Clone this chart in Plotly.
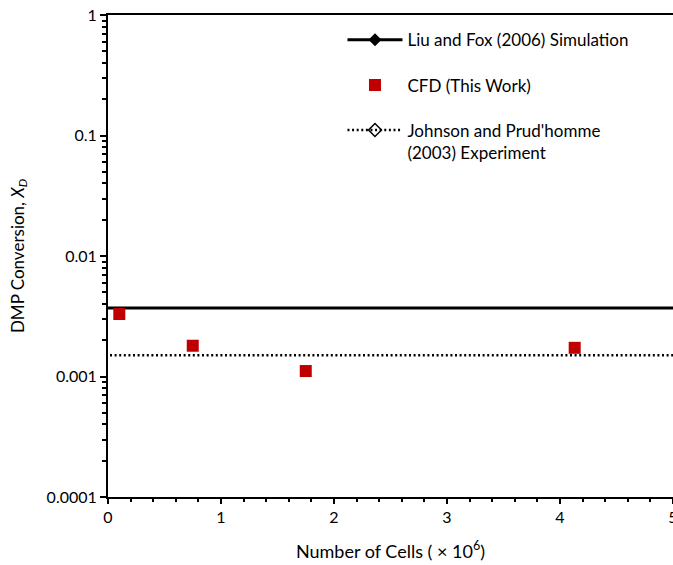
import plotly.graph_objects as go

# Mesh-independence study: DMP conversion vs. number of cells
cells_millions = [0.1, 0.75, 1.75, 4.13]
cfd_conversion = [0.0033, 0.0018, 0.00111, 0.00173]

liu_fox_value = 0.0037          # Liu and Fox (2006) simulation
johnson_value = 0.0015          # Johnson and Prud'homme (2003) experiment

x_range = [0, 5]
ref_line_x = [-1, 6]             # reference levels span the whole axis

y_tickvals = [0.0001, 0.001, 0.01, 0.1, 1]
y_ticktext = ["0.0001", "0.001", "0.01", "0.1", "1"]
y_minor = [m * 10 ** e for e in range(-4, 0) for m in range(2, 10)]

FONT = "Lato, Carlito, Calibri, sans-serif"
RED = "#C00000"

fig = go.Figure()

fig.add_trace(go.Scatter(
    x=ref_line_x, y=[liu_fox_value] * len(ref_line_x),
    mode="lines+markers", name="Liu and Fox (2006) Simulation",
    line=dict(color="black", width=3),
    marker=dict(symbol="diamond", size=10, color="black"),
    legendgroup="a", cliponaxis=True,
))
fig.add_trace(go.Scatter(
    x=cells_millions, y=cfd_conversion,
    mode="markers", name="CFD (This Work)",
    marker=dict(symbol="square", size=12, color=RED),
    legendgroup="b",
))
fig.add_trace(go.Scatter(
    x=ref_line_x, y=[johnson_value] * len(ref_line_x),
    mode="lines+markers", name="Johnson and Prud'homme<br>(2003) Experiment",
    line=dict(color="black", width=2.5, dash="2px,2.6px"),
    marker=dict(symbol="diamond-open", size=10, color="black",
                line=dict(width=1.5, color="black")),
    legendgroup="c", cliponaxis=True,
))

fig.update_layout(
    width=673, height=565,
    margin=dict(l=108, r=0, t=15, b=68),
    paper_bgcolor="white", plot_bgcolor="white",
    font=dict(family=FONT, size=16, color="black"),
    showlegend=True,
    legend=dict(
        x=0.415, y=0.985, xanchor="left", yanchor="top",
        font=dict(family=FONT, size=17, color="black"),
        itemwidth=55, tracegroupgap=20, traceorder="grouped",
        valign="top", bgcolor="rgba(0,0,0,0)",
    ),
)

fig.update_xaxes(
    range=x_range, showgrid=False, zeroline=False, automargin=False,
    showline=True, linecolor="black", linewidth=2, mirror=True,
    ticks="outside", ticklen=5, tickwidth=1.5, tickcolor="black",
    dtick=1, tickfont=dict(size=16), ticklabeloverflow="allow",
    minor=dict(dtick=0.2, ticks="outside", ticklen=3, tickwidth=1.5,
               tickcolor="black", showgrid=False),
    title=dict(text="Number of Cells ( × 10<sup>6</sup>)",
               font=dict(size=18), standoff=20),
)

fig.update_yaxes(
    type="log", range=[-4, 0], showgrid=False, zeroline=False,
    showline=True, linecolor="black", linewidth=2, automargin=False,
    ticks="outside", ticklen=6, tickwidth=1.5, tickcolor="black",
    tickmode="array", tickvals=y_tickvals, ticktext=y_ticktext,
    tickfont=dict(size=16),
    minor=dict(tickmode="array", tickvals=y_minor, ticks="outside",
               ticklen=4, tickwidth=1.5, tickcolor="black", showgrid=False),
    title=dict(text="DMP Conversion, <i>X</i><sub><i>D</i></sub>",
               font=dict(size=17), standoff=18),
)

fig.write_html("out.html")
